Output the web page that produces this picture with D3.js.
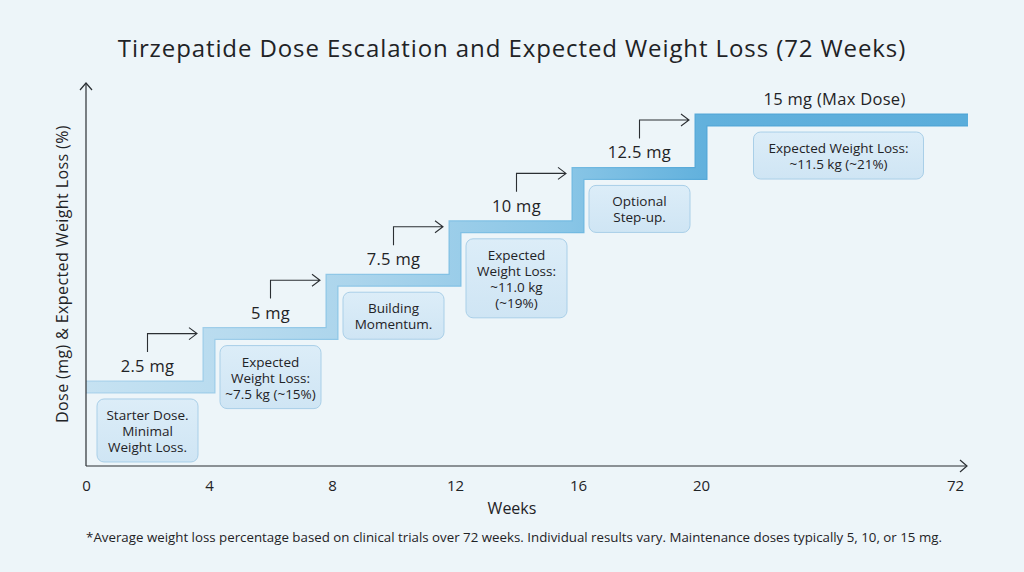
<!DOCTYPE html>
<html>
<head>
<meta charset="utf-8">
<script src="https://cdn.jsdelivr.net/npm/d3@7"></script>
<style>
  body { margin: 0; background: #edf5f9; }
  svg { display: block; font-family: "Open Sans", sans-serif; }
</style>
</head>
<body>
<div id="chart"></div>
<script>
// week boundaries of each dose step (last one is the end of the 72 week run)
let weeks = [0, 4, 8, 12, 16, 20, 72]
let tickLabels = ["0", "4", "8", "12", "16", "20", "72"]
let doses = [2.5, 5, 7.5, 10, 12.5, 15]
let doseLabels = ["2.5 mg", "5 mg", "7.5 mg", "10 mg", "12.5 mg", "15 mg (Max Dose)"]
let notes = [
  ["Starter Dose.", "Minimal", "Weight Loss."],
  ["Expected", "Weight Loss:", "~7.5 kg (~15%)"],
  ["Building", "Momentum."],
  ["Expected", "Weight Loss:", "~11.0 kg", "(~19%)"],
  ["Optional", "Step-up."],
  ["Expected Weight Loss:", "~11.5 kg (~21%)"]
]

let width = 1024, height = 572
let plotLeft = 86, plotBottom = 466, plotTop = 83, plotRight = 968

// weeks 0-20 are evenly spaced, then one long jump to 72
let xScale = d3.scaleLinear()
    .domain(weeks)
    .range([86, 209, 332, 455, 578, 701, 955])

let yScale = d3.scaleLinear()
    .domain([-1.2, 16.5])
    .range([plotBottom, 88])

let svg = d3.select("#chart").append("svg")
    .attr("width", width)
    .attr("height", height)

svg.append("rect").attr("width", width).attr("height", height).attr("fill", "#edf5f9")

// gradient for the dose band, light on the left, strong blue on the right
let defs = svg.append("defs")
let grad = defs.append("linearGradient")
    .attr("id", "band")
    .attr("gradientUnits", "userSpaceOnUse")
    .attr("x1", plotLeft).attr("x2", plotRight).attr("y1", 0).attr("y2", 0)
grad.selectAll("stop")
  .data([[0, "#c6e2f2"], [0.3, "#acd5ec"], [0.55, "#88c5e6"], [0.7, "#62b1dd"], [1, "#5aaddb"]])
  .enter().append("stop")
    .attr("offset", d => d[0])
    .attr("stop-color", d => d[1])
let gradEdge = defs.append("linearGradient")
    .attr("id", "bandEdge")
    .attr("gradientUnits", "userSpaceOnUse")
    .attr("x1", plotLeft).attr("x2", plotRight).attr("y1", 0).attr("y2", 0)
gradEdge.selectAll("stop")
  .data([[0, "#aed4ec"], [0.55, "#74bbe2"], [0.7, "#55a8d8"], [1, "#4fa5d6"]])
  .enter().append("stop")
    .attr("offset", d => d[0])
    .attr("stop-color", d => d[1])

// Title
svg.append("text")
  .attr("x", width / 2)
  .attr("y", 57)
  .attr("text-anchor", "middle")
  .attr("font-size", 24)
  .attr("letter-spacing", 0.9)
  .attr("fill", "#1f2326")
  .text("Tirzepatide Dose Escalation and Expected Weight Loss (72 Weeks)")

// step band
let stepData = doses.map((d, i) => ({week: weeks[i], dose: d}))
let line = d3.line()
    .x(d => d.week === 72 ? plotRight : xScale(d.week))
    .y(d => yScale(d.dose))
    .curve(d3.curveStepAfter)
let pts = stepData.concat([{week: 72, dose: 15}])

svg.append("path")
  .attr("d", line(pts))
  .attr("fill", "none")
  .attr("stroke", "url(#bandEdge)")
  .attr("stroke-width", 13)
  .attr("stroke-linejoin", "miter")
svg.append("path")
  .attr("d", line(pts))
  .attr("fill", "none")
  .attr("stroke", "url(#band)")
  .attr("stroke-width", 10.5)
  .attr("stroke-linejoin", "miter")

// axes (drawn by hand so they get open arrow heads)
let axis = svg.append("g").attr("stroke", "#2b2f33").attr("stroke-width", 1.2).attr("fill", "none")
axis.append("path").attr("d", `M${plotLeft},${plotBottom}V${plotTop}`)
axis.append("path").attr("d", `M${plotLeft - 6},${plotTop + 7}L${plotLeft},${plotTop}L${plotLeft + 6},${plotTop + 7}`)
axis.append("path").attr("d", `M${plotLeft},${plotBottom}H${plotRight - 1}`)
axis.append("path").attr("d", `M${plotRight - 8},${plotBottom - 6}L${plotRight - 1},${plotBottom}L${plotRight - 8},${plotBottom + 6}`)

let xAxis = d3.axisBottom(xScale)
    .tickValues(weeks)
    .tickFormat((d, i) => tickLabels[i])
    .tickSize(0)
    .tickPadding(14)
let gx = svg.append("g")
  .attr("transform", `translate(0,${plotBottom})`)
  .call(xAxis)
gx.select(".domain").remove()
gx.selectAll("text")
  .attr("font-family", "Open Sans, sans-serif")
  .attr("font-size", 15)
  .attr("fill", "#1f2326")

svg.append("text")
  .attr("x", 512)
  .attr("y", 514)
  .attr("text-anchor", "middle")
  .attr("font-size", 16)
  .attr("fill", "#1f2326")
  .text("Weeks")

svg.append("text")
  .attr("transform", "translate(68,274) rotate(-90)")
  .attr("text-anchor", "middle")
  .attr("font-size", 16)
  .attr("letter-spacing", 0.4)
  .attr("fill", "#1f2326")
  .text("Dose (mg) & Expected Weight Loss (%)")

// dose labels, arrows and note boxes per step
let stepEnd = i => i === doses.length - 1 ? plotRight : xScale(weeks[i + 1])
let mid = i => (xScale(weeks[i]) + stepEnd(i)) / 2

let steps = svg.append("g").selectAll("g")
  .data(doses)
  .enter().append("g")

steps.append("text")
  .attr("x", (d, i) => mid(i))
  .attr("y", d => yScale(d) - 15)
  .attr("text-anchor", "middle")
  .attr("font-size", 16.5)
  .attr("letter-spacing", 0.3)
  .attr("fill", "#1f2326")
  .text((d, i) => doseLabels[i])

steps.filter((d, i) => i < doses.length - 1).append("path")
  .attr("fill", "none")
  .attr("stroke", "#2b2f33")
  .attr("stroke-width", 1.1)
  .attr("d", (d, i) => {
    let x0 = mid(i), y0 = yScale(d) - 35
    let y1 = yScale(doses[i + 1]), x1 = xScale(weeks[i + 1]) - 12
    return `M${x0},${y0}V${y1}H${x1}M${x1 - 8},${y1 - 6}L${x1},${y1}L${x1 - 8},${y1 + 6}`
  })

let boxLine = 16
let boxes = steps.append("g")
  .attr("transform", (d, i) => `translate(${mid(i) + (i === doses.length - 1 ? 4 : 0)},${yScale(d) + 12})`)

let boxGrad = defs.append("linearGradient")
    .attr("id", "box").attr("x1", 0).attr("x2", 0).attr("y1", 0).attr("y2", 1)
boxGrad.append("stop").attr("offset", 0).attr("stop-color", "#dcedf8")
boxGrad.append("stop").attr("offset", 1).attr("stop-color", "#cfe5f4")

boxes.append("rect")
  .attr("x", (d, i) => i === doses.length - 1 ? -85 : -50.5)
  .attr("width", (d, i) => i === doses.length - 1 ? 170 : 101)
  .attr("height", (d, i) => notes[i].length * boxLine + 15)
  .attr("rx", 7)
  .attr("fill", "url(#box)")
  .attr("stroke", "#a9cfe8")
  .attr("stroke-width", 1)

boxes.append("text")
  .attr("text-anchor", "middle")
  .attr("font-size", 13.5)
  .attr("fill", "#1f2326")
  .selectAll("tspan")
  .data((d, i) => notes[i])
  .enter().append("tspan")
    .attr("x", 0)
    .attr("y", (t, j) => 21 + j * boxLine)
    .text(t => t)

// footnote
svg.append("text")
  .attr("x", 514)
  .attr("y", 542)
  .attr("text-anchor", "middle")
  .attr("font-size", 13.3)
  .attr("fill", "#1f2326")
  .text("*Average weight loss percentage based on clinical trials over 72 weeks. Individual results vary. Maintenance doses typically 5, 10, or 15 mg.")
</script>
</body>
</html>
